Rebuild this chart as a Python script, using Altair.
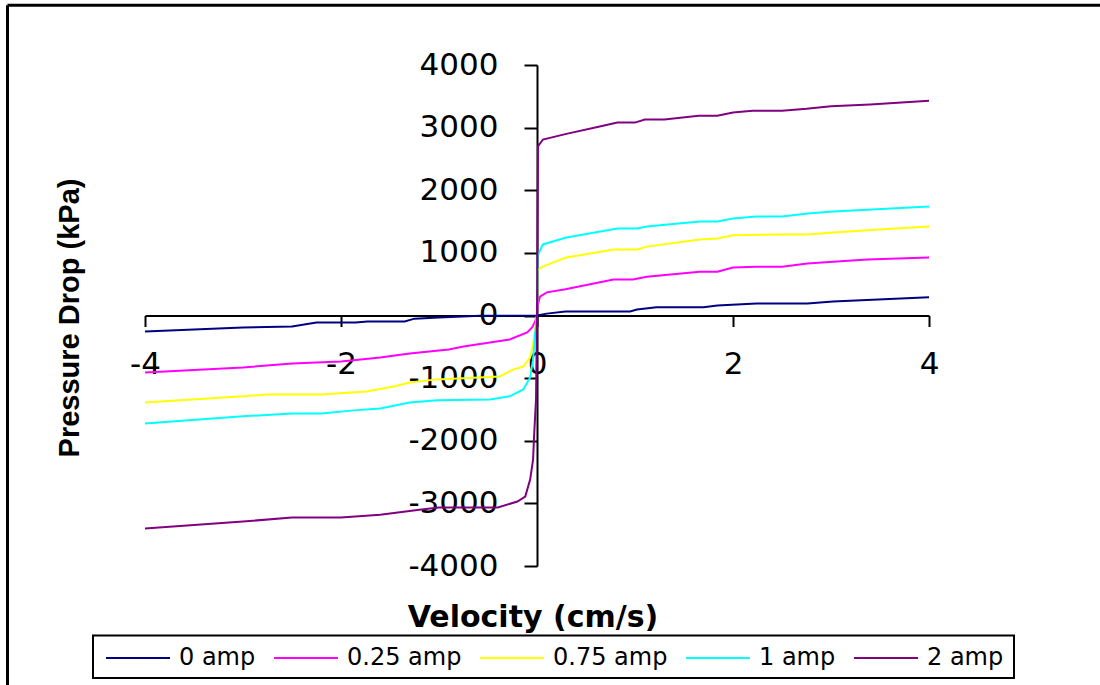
import altair as alt
import pandas as pd

series_names = ["0 amp", "0.25 amp", "0.75 amp", "1 amp", "2 amp"]
series_colors = ["#000080", "#FF00FF", "#FFFF00", "#00FFFF", "#800080"]

# velocity (cm/s) and pressure drop (kPa)
amp0_v = [-4, -3, -2.5, -2.25, -1.85, -1.73, -1.35, -1.25, -1.0, -0.58, 0,
          0.1, 0.29, 0.95, 1.02, 1.22, 1.7, 1.84, 2.24, 2.76, 3.02, 4]
amp0_p = [-255, -190, -175, -110, -110, -95, -95, -50, -30, -5, 0,
          30, 65, 65, 95, 130, 130, 160, 190, 190, 225, 290]

amp025_v = [-4, -3, -2.5, -2.0, -1.6, -1.3, -1.1, -0.9, -0.75, -0.48, -0.28, -0.1, -0.05, -0.02, 0,
            0.005, 0.03, 0.1, 0.29, 0.78, 0.98, 1.12, 1.66, 1.84, 2.0, 2.24, 2.5, 2.76, 3.02, 3.37, 4]
amp025_p = [-910, -830, -765, -735, -670, -607, -575, -543, -495, -430, -383, -270, -190, -100, 0,
            150, 300, 370, 420, 575, 575, 620, 700, 700, 765, 780, 780, 830, 860, 895, 926]

amp075_v = [-4, -3, -2.75, -2.2, -1.74, -1.45, -1.3, -1.02, -0.38, -0.24, -0.14, -0.07, -0.04, -0.02, 0,
            0.005, 0.01, 0.06, 0.16, 0.3, 0.78, 1.02, 1.12, 1.66, 1.84, 2.0, 2.5, 2.76, 3.02, 3.37, 4]
amp075_p = [-1390, -1290, -1260, -1260, -1215, -1130, -1070, -1020, -975, -860, -815, -670, -460, -225, 0,
            690, 735, 780, 845, 925, 1055, 1055, 1100, 1215, 1230, 1280, 1295, 1295, 1325, 1360, 1420]

amp1_v = [-4, -3, -2.5, -2.2, -1.87, -1.6, -1.3, -1.02, -0.48, -0.28, -0.14, -0.07, -0.04, -0.02, 0,
          0.005, 0.06, 0.3, 0.82, 1.02, 1.12, 1.66, 1.84, 2.0, 2.24, 2.5, 2.76, 3.02, 3.37, 4]
amp1_p = [-1725, -1610, -1565, -1565, -1515, -1485, -1390, -1355, -1340, -1290, -1180, -990, -700, -300, 0,
          950, 1135, 1245, 1390, 1390, 1420, 1500, 1500, 1550, 1580, 1580, 1630, 1660, 1690, 1740]

amp2_v = [-4, -3, -2.5, -2.0, -1.6, -1.2, -1.0, -0.4, -0.2, -0.12, -0.07, -0.04, -0.03, -0.01, 0,
          0.01, 0.06, 0.3, 0.64, 0.82, 1.0, 1.1, 1.3, 1.65, 1.84, 2.0, 2.2, 2.5, 2.75, 3.0, 3.4, 4.0]
amp2_p = [-3400, -3290, -3225, -3225, -3180, -3100, -3065, -3065, -2970, -2890, -2620, -2300, -1930, -1340, 0,
          2700, 2810, 2900, 3018, 3080, 3080, 3130, 3130, 3190, 3190, 3240, 3270, 3270, 3300, 3340, 3370, 3430]

x_ticks = [-4, -2, 0, 2, 4]
y_ticks = [-4000, -3000, -2000, -1000, 0, 1000, 2000, 3000, 4000]

x_title = "Velocity (cm/s)"
y_title = "Pressure Drop (kPa)"

rows = []
for name, vs, ps in zip(series_names,
                        [amp0_v, amp025_v, amp075_v, amp1_v, amp2_v],
                        [amp0_p, amp025_p, amp075_p, amp1_p, amp2_p]):
    for i, (v, p) in enumerate(zip(vs, ps)):
        rows.append({"series": name, "v": v, "p": p, "i": i})
df = pd.DataFrame(rows)

W, H = 784, 501
PL, PT = 145, 65

lines = alt.Chart(df).mark_line(strokeWidth=2).encode(
    x=alt.X("v:Q", scale=alt.Scale(domain=[-4, 4], nice=False, zero=False),
            axis=alt.Axis(values=x_ticks, offset=-250.5, title=None, grid=False,
                          domainColor="black", domainWidth=2, tickColor="black",
                          tickWidth=2, tickSize=11, labelFont="DejaVu Sans",
                          labelFontSize=31, labelColor="black", labelPadding=38,
                          labelBaseline="middle", labelFlush=False, labelOverlap=False,
                          labelExpr="'' + datum.value")),
    y=alt.Y("p:Q", scale=alt.Scale(domain=[-4000, 4000], nice=False),
            axis=alt.Axis(values=y_ticks, offset=-392, title=None, grid=False,
                          domainColor="black", domainWidth=2, tickColor="black",
                          tickWidth=2, tickSize=13, labelFont="DejaVu Sans",
                          labelFontSize=31, labelColor="black", labelPadding=26,
                          labelFlush=False, labelOverlap=False,
                          labelExpr="'' + datum.value")),
    color=alt.Color("series:N", scale=alt.Scale(domain=series_names, range=series_colors),
                    legend=alt.Legend(orient="none", legendX=105 - PL, legendY=657 - 32 - PT,
                                      direction="horizontal", title=None,
                                      symbolType="stroke", symbolSize=4096,
                                      symbolStrokeWidth=2, labelFont="DejaVu Sans",
                                      labelFontSize=24, labelColor="black",
                                      labelOffset=8, columnPadding=14, padding=0)),
    order="i:Q",
    detail="series:N",
)

legend_box = alt.Chart(pd.DataFrame({"a": [0]})).mark_rect(
    fill=None, fillOpacity=0, stroke="black", strokeWidth=2
).encode(x=alt.value(93 - PL), x2=alt.value(1014 - PL),
         y=alt.value(635.5 - PT), y2=alt.value(678 - PT))

xt = alt.Chart(pd.DataFrame({"t": [x_title]})).mark_text(
    font="DejaVu Sans", fontWeight="bold", fontSize=30, color="black",
    align="center", baseline="middle"
).encode(x=alt.value(533 - PL), y=alt.value(618 - PT), text="t:N")

yt = alt.Chart(pd.DataFrame({"t": [y_title]})).mark_text(
    font="Liberation Sans", fontWeight="bold", fontSize=29, color="black",
    align="center", baseline="middle", angle=270
).encode(x=alt.value(70 - PL), y=alt.value(318 - PT), text="t:N")

frame_top = alt.Chart(pd.DataFrame({"a": [0]})).mark_rule(color="black", strokeWidth=3).encode(
    x=alt.value(7.5 - PL), x2=alt.value(1100 - PL), y=alt.value(5.3 - PT))
frame_left = alt.Chart(pd.DataFrame({"a": [0]})).mark_rule(color="black", strokeWidth=3).encode(
    x=alt.value(7.5 - PL), y=alt.value(5.3 - PT), y2=alt.value(685 - PT))

chart = alt.layer(lines, legend_box, xt, yt, frame_top, frame_left).properties(
    width=W, height=H,
    padding={"left": PL, "top": PT, "right": 1100 - PL - W, "bottom": 685 - PT - H},
    autosize=alt.AutoSizeParams(type="none"),
    background="white",
).configure_view(stroke=None)

chart.save("out.html", embed_options={"renderer": "svg", "actions": False})
